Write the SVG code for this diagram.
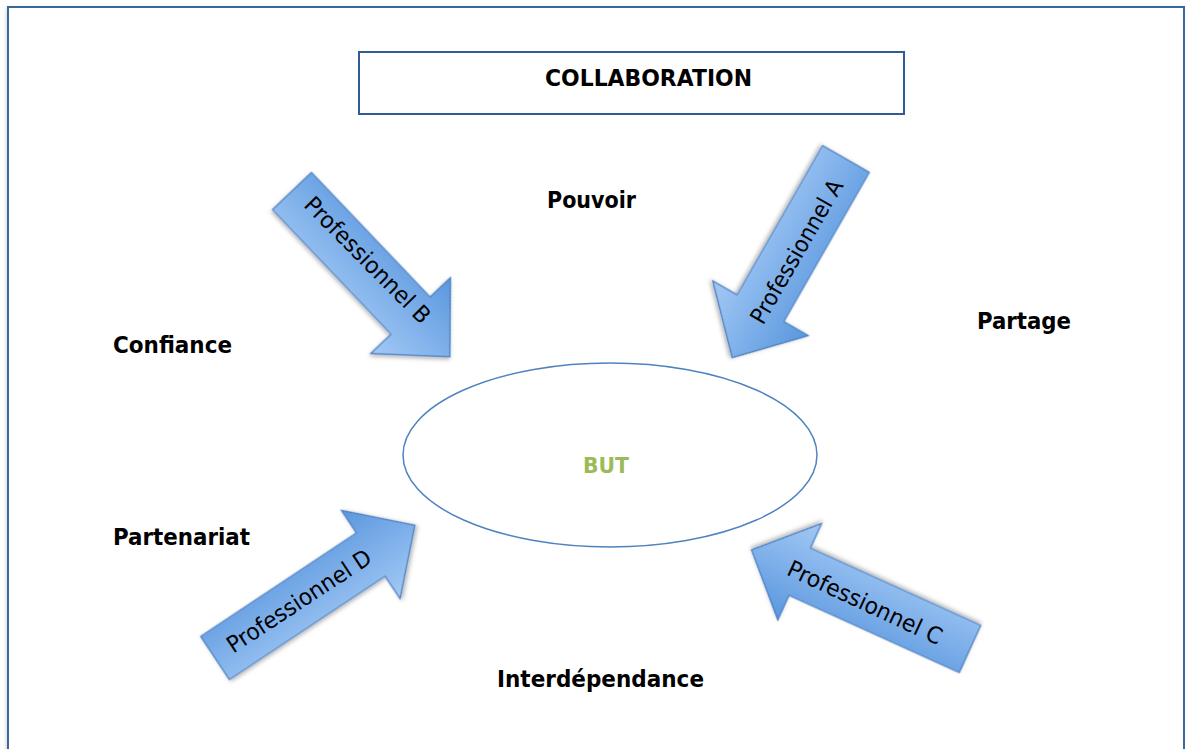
<svg xmlns="http://www.w3.org/2000/svg" width="1185" height="749" viewBox="0 0 1185 749">
<style>
.lbl{font-family:"DejaVu Sans","Liberation Sans",sans-serif;font-weight:bold;font-size:23px;fill:#000}
.arrtxt{font-family:"DejaVu Sans","Liberation Sans",sans-serif;font-size:23px;fill:#000}
.arrow{fill:url(#ag);stroke:#4a7fbf;stroke-width:1.2;filter:url(#sh)}
</style>
<defs>
<linearGradient id="ag" x1="0" y1="0" x2="0" y2="1">
<stop offset="0" stop-color="#5a97de"/>
<stop offset="1" stop-color="#a3c9f5"/>
</linearGradient>
<filter id="sh" x="-20%" y="-20%" width="140%" height="140%">
<feDropShadow dx="1" dy="2" stdDeviation="2" flood-color="#000" flood-opacity="0.3"/>
</filter>
<filter id="fsh" x="-5%" y="-5%" width="110%" height="110%">
<feDropShadow dx="0" dy="2" stdDeviation="2" flood-color="#000" flood-opacity="0.25"/>
</filter>
</defs>
<rect width="1185" height="749" fill="#fff"/>
<rect id="frame" x="8" y="7" width="1176" height="770" fill="#fff" stroke="#3b679c" stroke-width="2" filter="url(#fsh)"/>
<g id="collaboration">
<rect x="359" y="52" width="545" height="62" fill="#fff" stroke="#2f5d92" stroke-width="2"/>
<text class="lbl" x="648.5" y="86" text-anchor="middle" textLength="207" lengthAdjust="spacingAndGlyphs">COLLABORATION</text>
</g>
<g id="but">
<ellipse cx="610" cy="455" rx="207" ry="92" fill="#fff" stroke="#4f83c0" stroke-width="1.5"/>
<text class="lbl" x="606" y="473" text-anchor="middle" style="fill:#9bbb59;font-size:21px" textLength="46" lengthAdjust="spacingAndGlyphs">BUT</text>
</g>
<g id="pouvoir"><text class="lbl" x="591.5" y="208" text-anchor="middle" textLength="89" lengthAdjust="spacingAndGlyphs">Pouvoir</text></g>
<g id="confiance"><text class="lbl" x="172.5" y="353" text-anchor="middle" textLength="119" lengthAdjust="spacingAndGlyphs">Confiance</text></g>
<g id="partage"><text class="lbl" x="1024" y="329" text-anchor="middle" textLength="94" lengthAdjust="spacingAndGlyphs">Partage</text></g>
<g id="partenariat"><text class="lbl" x="181.5" y="545" text-anchor="middle" textLength="137" lengthAdjust="spacingAndGlyphs">Partenariat</text></g>
<g id="interdependance"><text class="lbl" x="600.5" y="687" text-anchor="middle" textLength="207" lengthAdjust="spacingAndGlyphs">Interdépendance</text></g>
<g id="connectors">
<g id="arrow-b">
<polygon class="arrow" transform="translate(292,191) rotate(46.4)" points="0,-27 172,-27 172,-55 229,0 172,55 172,27 0,27"/>
<text class="arrtxt" transform="translate(367.5,260) rotate(45.2)" x="0" y="8" text-anchor="middle" textLength="168" lengthAdjust="spacingAndGlyphs">Professionnel B</text>
</g>
<g id="arrow-a">
<polygon class="arrow" transform="translate(846,159) rotate(119.8)" points="0,-27 172,-27 172,-55 229,0 172,55 172,27 0,27"/>
<text class="arrtxt" transform="translate(796.5,251.5) rotate(-60)" x="0" y="8" text-anchor="middle" textLength="162" lengthAdjust="spacingAndGlyphs">Professionnel A</text>
</g>
<g id="arrow-d">
<polygon class="arrow" transform="translate(215,658) rotate(-33.6)" points="0,-26 187,-26 187,-53 240,0 187,53 187,26 0,26"/>
<text class="arrtxt" transform="translate(299,601) rotate(-33.3)" x="0" y="8" text-anchor="middle" textLength="168" lengthAdjust="spacingAndGlyphs">Professionnel D</text>
</g>
<g id="arrow-c">
<polygon class="arrow" transform="translate(970,649) rotate(-155.6)" points="0,-26 187,-26 187,-53 240,0 187,53 187,26 0,26"/>
<text class="arrtxt" transform="translate(865,602.5) rotate(25)" x="0" y="8" text-anchor="middle" textLength="168" lengthAdjust="spacingAndGlyphs">Professionnel C</text>
</g>
</g>
</svg>
